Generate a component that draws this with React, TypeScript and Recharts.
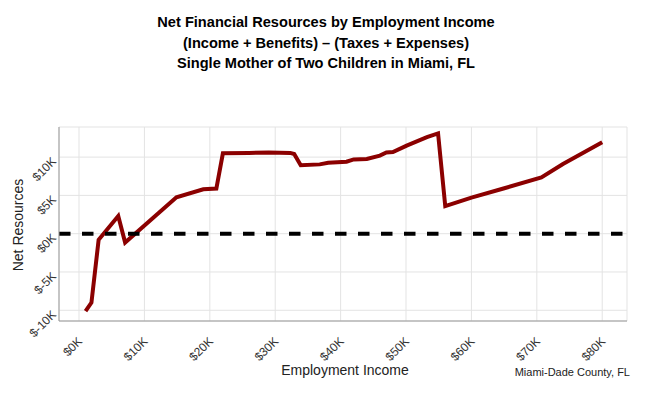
import React from 'react';
import { LineChart, Line, XAxis, YAxis, CartesianGrid, ReferenceLine } from 'recharts';

// employment income ($) and net resources ($)
const incomes = [
  1000, 1900, 3000, 6000, 7050, 14900, 19000, 21000, 22000, 26000, 29000, 32300, 32900,
  33900, 36800, 38100, 40900, 42000, 44000, 46000, 47000, 48000, 50100, 51100, 53200,
  54900, 56000, 60000, 64900, 70700, 74000, 80000,
];
const netResources = [
  -10100, -9000, -800, 2300, -1150, 4750, 5800, 5900, 10500, 10550, 10600, 10550, 10400,
  8950, 9050, 9250, 9400, 9700, 9750, 10200, 10600, 10650, 11500, 11850, 12600,
  13100, 3600, 4700, 5900, 7350, 9100, 11950,
];
const xTicks = [0, 10000, 20000, 30000, 40000, 50000, 60000, 70000, 80000];
const yTicks = [-10000, -5000, 0, 5000, 10000];
const titleLines = [
  'Net Financial Resources by Employment Income',
  '(Income + Benefits) – (Taxes + Expenses)',
  'Single Mother of Two Children in Miami, FL',
];

const data = incomes.map((income, i) => ({ income, net: netResources[i] }));

const FONT = '"Liberation Sans", Arial, sans-serif';
const money = (v: number) => `$${v / 1000}K`;

const XTick = (props: any) => {
  const { x, y, payload } = props;
  const ax = x + 4;
  const ay = y + 21;
  return (
    <text x={ax} y={ay} transform={`rotate(-45, ${ax}, ${ay})`} textAnchor="end"
      fontSize={12} fontFamily={FONT} fill="#333">
      {money(payload.value)}
    </text>
  );
};

const YTick = (props: any) => {
  const { x, y, payload } = props;
  const ax = x - 2;
  const ay = y + 5;
  return (
    <text x={ax} y={ay} transform={`rotate(-45, ${ax}, ${ay})`} textAnchor="end"
      fontSize={12} fontFamily={FONT} fill="#333">
      {money(payload.value)}
    </text>
  );
};

export default function App() {
  return (
    <div style={{ position: 'absolute', left: 0, top: 0, width: 652, height: 394, background: '#fff', fontFamily: FONT }}>
      <div style={{ position: 'absolute', left: 0, top: 12, width: 652, textAlign: 'center', fontWeight: 'bold', fontSize: 14.6, lineHeight: '20.5px', color: '#000' }}>
        {titleLines.map(t => <div key={t}>{t}</div>)}
      </div>
      <LineChart width={652} height={394} data={data} margin={{ top: 127, right: 25, bottom: 0, left: 0 }}>
        <CartesianGrid stroke="#e3e3e3" strokeWidth={1} />
        <XAxis
          type="number"
          dataKey="income"
          domain={[-3060, 83790]}
          allowDataOverflow
          ticks={xTicks}
          tick={<XTick />}
          tickLine={false}
          tickSize={0}
          tickMargin={0}
          height={73}
          stroke="#999"
        />
        <YAxis
          type="number"
          domain={[-11400, 13930]}
          allowDataOverflow
          ticks={yTicks}
          tick={<YTick />}
          tickLine={false}
          tickSize={0}
          tickMargin={0}
          width={59}
          stroke="#999"
        />
        <Line
          type="linear"
          dataKey="net"
          stroke="#8b0000"
          strokeWidth={4}
          dot={false}
          activeDot={false}
          isAnimationActive={false}
        />
        <ReferenceLine y={0} stroke="#000" strokeWidth={4} strokeDasharray="11.5 11.5" />
      </LineChart>
      <div style={{ position: 'absolute', left: 0, top: 225, width: 0, height: 0 }}>
        <div style={{ position: 'absolute', transform: 'translate(-50%, -50%) rotate(-90deg)', left: 18, top: 0, whiteSpace: 'nowrap', fontSize: 14, color: '#222' }}>
          Net Resources
        </div>
      </div>
      <div style={{ position: 'absolute', left: 345, top: 370, transform: 'translate(-50%, -50%)', whiteSpace: 'nowrap', fontSize: 14, color: '#222' }}>
        Employment Income
      </div>
      <div style={{ position: 'absolute', right: 22, top: 372, transform: 'translateY(-50%)', whiteSpace: 'nowrap', fontSize: 11, color: '#222' }}>
        Miami-Dade County, FL
      </div>
    </div>
  );
}
